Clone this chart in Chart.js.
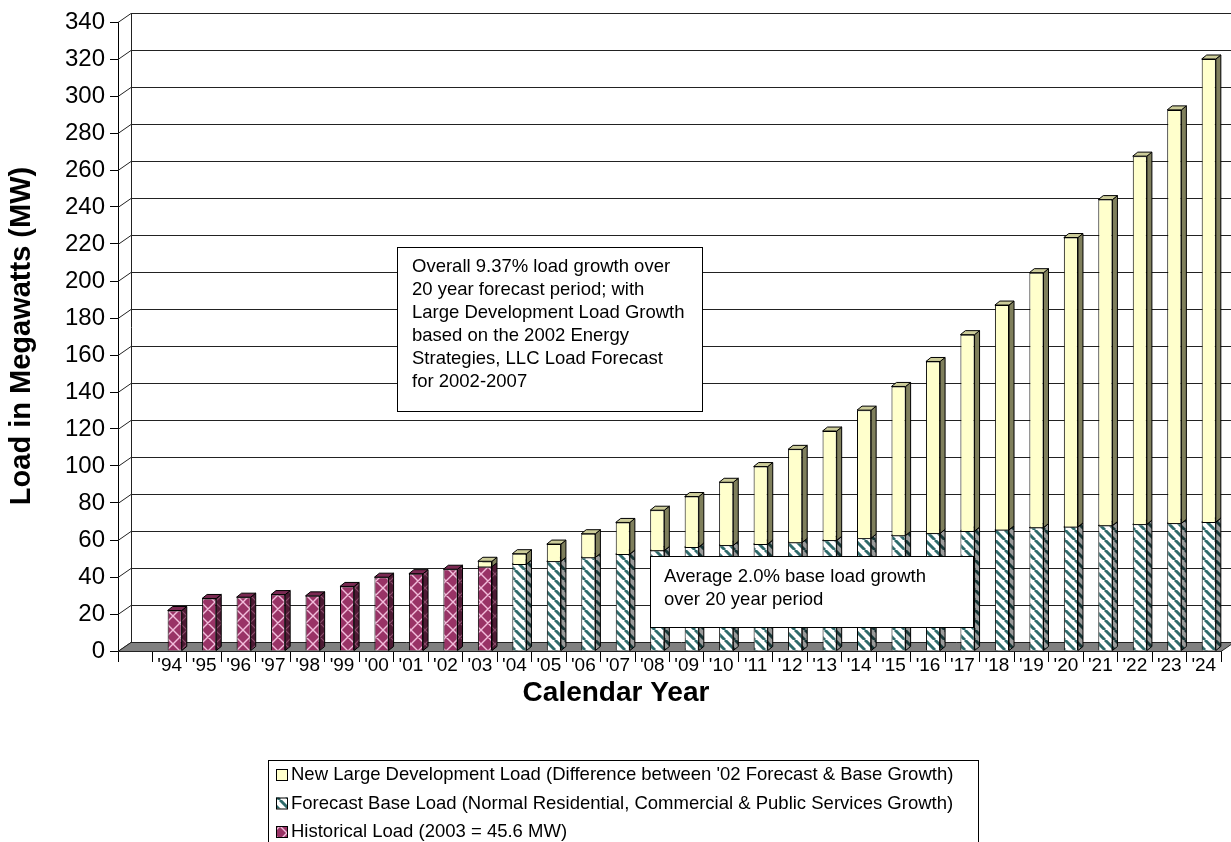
<!DOCTYPE html>
<html>
<head>
<meta charset="utf-8">
<style>
  html, body { margin: 0; padding: 0; background: #fff; }
  #wrap { width: 1231px; height: 842px; }
</style>
<script src="https://cdn.jsdelivr.net/npm/chart.js@4.4.0/dist/chart.umd.min.js"></script>
</head>
<body>
<div id="wrap"><canvas id="canvas" width="1231" height="842"></canvas></div>
<script>
// x-axis labels, the first slot is left empty like the original
const years = ['', "'94", "'95", "'96", "'97", "'98", "'99", "'00", "'01", "'02", "'03",
  "'04", "'05", "'06", "'07", "'08", "'09", "'10", "'11", "'12", "'13", "'14",
  "'15", "'16", "'17", "'18", "'19", "'20", "'21", "'22", "'23", "'24"];

// Historical load, '94 - '03 (MW)
const historical = [null, 21.9, 28.4, 29.1, 30.5, 29.8, 34.9, 39.9, 41.8, 44.2, 45.6,
  null, null, null, null, null, null, null, null, null, null, null,
  null, null, null, null, null, null, null, null, null, null];

// Forecast base load, '04 - '24 (MW)
const baseLoad = [null, null, null, null, null, null, null, null, null, null, null,
  47.0, 48.5, 50.6, 52.4, 54.3, 56.2, 57.1, 57.8, 58.7, 59.8, 61.0,
  62.5, 63.6, 64.8, 65.5, 66.7, 67.1, 67.8, 68.5, 69.0, 69.7];

// New large development load, stacked on top (MW)
const newLoad = [null, null, null, null, null, null, null, null, null, null, 2.9,
  5.6, 9.3, 12.8, 17.1, 21.8, 27.3, 34.1, 41.9, 50.3, 59.1, 69.2,
  80.5, 92.9, 106.2, 121.5, 137.8, 156.4, 176.2, 199.0, 223.5, 250.3];

// y axis range
const yMax = 340;
const yStep = 20;

const notes = [
  { box: [397, 247, 305, 164], x: 412, y: 267, lines: [
    'Overall 9.37% load growth over',
    '20 year forecast period; with',
    'Large Development Load Growth',
    'based on the 2002 Energy',
    'Strategies, LLC Load Forecast',
    'for 2002-2007'] },
  { box: [650, 556, 323, 71], x: 664, y: 577, lines: [
    'Average 2.0% base load growth',
    'over 20 year period'] }
];

const FONT = 'Arial, "Liberation Sans", sans-serif';

// hatch fills
function makePattern(size, bg, fg, lw, kind) {
  const c = document.createElement('canvas');
  c.width = size; c.height = size;
  const g = c.getContext('2d');
  g.fillStyle = bg;
  g.fillRect(0, 0, size, size);
  g.strokeStyle = fg;
  g.lineWidth = lw;
  g.beginPath();
  for (let k = -size; k <= size; k += size) {
    g.moveTo(k, 0); g.lineTo(k + size, size);
    if (kind === 'cross') { g.moveTo(k + size, 0); g.lineTo(k, size); }
  }
  g.stroke();
  return g.createPattern(c, 'repeat');
}

const ctx = document.getElementById('canvas').getContext('2d');
const histFill = makePattern(14, '#993366', '#f2bddb', 1.4, 'cross');
const histSide = makePattern(14, '#4d1933', '#8a4d6b', 1.2, 'cross');
const baseFill = makePattern(10, '#ffffff', '#2f6b6b', 3, 'diag');
const baseSide = makePattern(10, '#9a9a9a', '#173636', 3, 'diag');

const faces = [
  { side: histSide, top: '#7a2952' },
  { side: baseSide, top: '#9a9a9a' },
  { side: '#7f7f5c', top: '#cccc99' }
];

const DX = 5, DY = 4;    // bar depth
const WX = 13, WY = 9;   // back wall offset
const SHIFT = 5;         // bars sit a little behind the front plane

const depth3d = {
  id: 'depth3d',
  beforeDatasetsDraw(chart) {
    const c = chart.ctx;
    const area = chart.chartArea;
    const ys = chart.scales.y;
    c.save();
    // back wall grid
    c.strokeStyle = '#222';
    c.lineWidth = 1;
    c.beginPath();
    ys.ticks.forEach(t => {
      const py = Math.round(ys.getPixelForValue(t.value)) + 0.5;
      c.moveTo(area.left, py);
      c.lineTo(area.left + WX, py - WY);
      if (t.value > 0) c.lineTo(chart.width, py - WY);
    });
    c.moveTo(area.left + WX + 0.5, area.top - WY);
    c.lineTo(area.left + WX + 0.5, area.bottom - WY);
    c.stroke();
    // floor
    c.fillStyle = '#808080';
    c.beginPath();
    c.moveTo(area.left, area.bottom + 0.5);
    c.lineTo(area.left + WX, area.bottom - WY + 0.5);
    c.lineTo(area.right + WX, area.bottom - WY + 0.5);
    c.lineTo(area.right, area.bottom + 0.5);
    c.closePath();
    c.fill();
    c.stroke();
    c.restore();
    // bar sides and tops, then the fronts drawn by Chart.js, all shifted
    c.save();
    c.translate(SHIFT, 0);
    c.strokeStyle = '#000';
    c.lineWidth = 1;
    chart.data.datasets.forEach((ds, di) => {
      const meta = chart.getDatasetMeta(di);
      meta.data.forEach((bar, i) => {
        if (ds.data[i] == null) return;
        const p = bar.getProps(['x', 'y', 'base', 'width'], true);
        const L = p.x - p.width / 2, R = p.x + p.width / 2;
        c.fillStyle = faces[di].side;
        c.beginPath();
        c.moveTo(R, p.y); c.lineTo(R + DX, p.y - DY);
        c.lineTo(R + DX, p.base - DY); c.lineTo(R, p.base);
        c.closePath(); c.fill(); c.stroke();
        c.fillStyle = faces[di].top;
        c.beginPath();
        c.moveTo(L, p.y); c.lineTo(L + DX, p.y - DY);
        c.lineTo(R + DX, p.y - DY); c.lineTo(R, p.y);
        c.closePath(); c.fill(); c.stroke();
      });
    });
  },
  afterDatasetsDraw(chart) {
    chart.ctx.restore();
  },
  afterDraw(chart) {
    const c = chart.ctx;
    c.save();
    c.fillStyle = '#000';
    c.textAlign = 'center';
    c.textBaseline = 'middle';
    // axis titles
    c.font = 'bold 28px ' + FONT;
    c.fillText('Calendar Year', 616, 693);
    c.save();
    c.translate(22, 336);
    c.rotate(-Math.PI / 2);
    c.font = 'bold 29px ' + FONT;
    c.fillText('Load in Megawatts (MW)', 0, 0);
    c.restore();
    // text boxes
    c.font = '18.5px ' + FONT;
    c.textAlign = 'left';
    c.lineWidth = 1;
    notes.forEach(n => {
      const [bx, by, bw, bh] = n.box;
      c.fillStyle = '#fff';
      c.fillRect(bx, by, bw, bh);
      c.strokeStyle = '#000';
      c.strokeRect(bx + 0.5, by + 0.5, bw, bh);
      c.fillStyle = '#000';
      n.lines.forEach((s, k) => c.fillText(s, n.x, n.y + k * 23));
    });
    // legend, top series first
    const lx = 268, ly = 760;
    c.strokeRect(lx + 0.5, ly + 0.5, 710, 100);
    const items = chart.data.datasets.slice().reverse();
    items.forEach((ds, k) => {
      const cy = 775 + k * 28.5;
      c.fillStyle = ds.backgroundColor;
      c.fillRect(276, cy - 6, 11, 11);
      c.strokeRect(276.5, cy - 5.5, 11, 11);
      c.fillStyle = '#000';
      c.fillText(ds.label, 291, cy);
    });
    c.restore();
  }
};

Chart.defaults.font.family = FONT;
Chart.defaults.color = '#000';

new Chart(ctx, {
  type: 'bar',
  data: {
    labels: years,
    datasets: [
      {
        label: 'Historical Load (2003 = 45.6 MW)',
        data: historical,
        backgroundColor: histFill,
        borderColor: '#000',
        borderWidth: 1
      },
      {
        label: 'Forecast Base Load (Normal Residential, Commercial & Public Services Growth)',
        data: baseLoad,
        backgroundColor: baseFill,
        borderColor: '#000',
        borderWidth: 1
      },
      {
        label: "New Large Development Load (Difference between '02 Forecast & Base Growth)",
        data: newLoad,
        backgroundColor: '#ffffcc',
        borderColor: '#000',
        borderWidth: 1
      }
    ]
  },
  options: {
    responsive: false,
    devicePixelRatio: 1,
    animation: false,
    layout: { padding: { top: 22, right: 10, bottom: 130, left: 0 } },
    datasets: { bar: { categoryPercentage: 1, barPercentage: 0.41 } },
    plugins: {
      legend: { display: false },
      tooltip: { enabled: false }
    },
    scales: {
      x: {
        stacked: true,
        grid: { drawOnChartArea: false, tickLength: 11, color: '#000', offset: true },
        border: { color: '#000' },
        ticks: { font: { size: 19 }, padding: -8, maxRotation: 0, autoSkip: false },
        afterFit: s => { s.height = 61; }
      },
      y: {
        stacked: true,
        min: 0,
        max: yMax,
        grid: { drawOnChartArea: false, tickLength: 8, color: '#000' },
        border: { color: '#000' },
        ticks: { stepSize: yStep, font: { size: 24 }, padding: 5 },
        afterFit: s => { s.width = 118; }
      }
    }
  },
  plugins: [depth3d]
});
</script>
</body>
</html>
